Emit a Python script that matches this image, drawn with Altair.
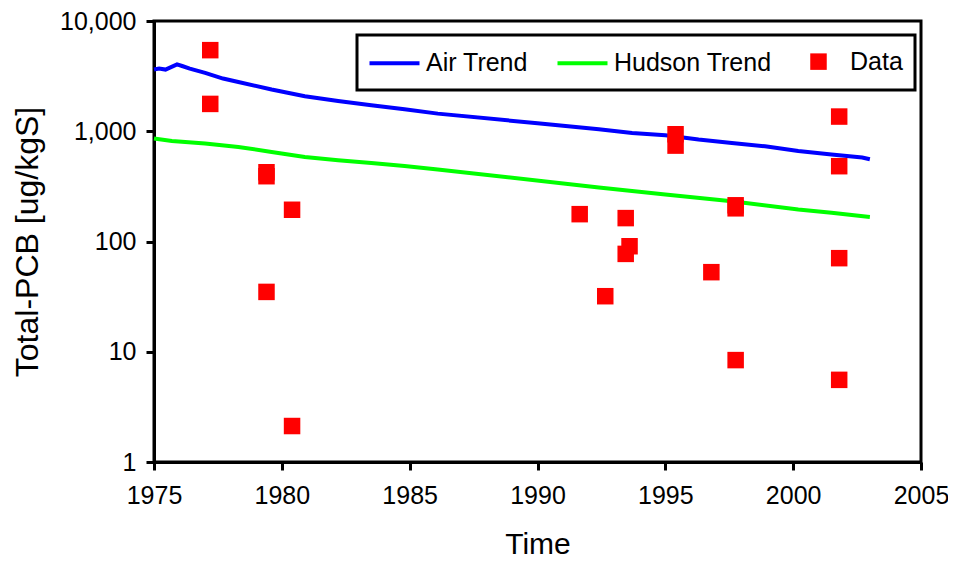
import altair as alt
import pandas as pd

# ---- data ----
series = ["Air Trend", "Hudson Trend", "Data"]

air_year = [1975.0, 1975.2, 1975.45, 1975.9, 1976.1, 1976.4, 1977.0, 1977.7, 1978.3, 1979.6,
            1980.9, 1982.2, 1983.5, 1984.8, 1986.1, 1990.0, 1992.4, 1993.7, 1995.0, 1996.3,
            1997.6, 1998.9, 2000.2, 2001.5, 2002.7, 2003.0]
air_val = [3625, 3700, 3625, 4045, 3906, 3700, 3381, 3006, 2800, 2388,
           2076, 1883, 1721, 1583, 1445, 1182, 1042, 966, 921, 841,
           784, 731, 663, 615, 578, 557]

hudson_year = [1975.0, 1975.7, 1977.0, 1978.3, 1979.6, 1980.9, 1982.2, 1983.5, 1984.8, 1986.1,
               1992.4, 1995.0, 1997.6, 2000.2, 2001.5, 2003.0]
hudson_val = [859, 817, 774, 721, 649, 585, 546, 516, 485, 450,
              309, 267, 232, 195, 182, 167]

data_year = [1977.2, 1977.2, 1979.4, 1979.4, 1979.4, 1980.4, 1980.4, 1991.65, 1992.65, 1993.45,
             1993.45, 1993.6, 1995.4, 1995.4, 1996.8, 1997.75, 1997.75, 1997.75, 2001.8, 2001.8,
             2001.8, 2001.8]
data_val = [5440, 1770, 425, 391, 34.9, 194, 2.12, 177, 31.9, 163,
            77.2, 90.6, 939, 741, 52.7, 213, 200, 8.4, 1359, 482,
            70.6, 5.56]

x_ticks = [1975, 1980, 1985, 1990, 1995, 2000, 2005]
y_ticks = [1, 10, 100, 1000, 10000]

# ---- tables ----
line_df = pd.concat([
    pd.DataFrame({"year": air_year, "value": air_val, "series": "Air Trend"}),
    pd.DataFrame({"year": hudson_year, "value": hudson_val, "series": "Hudson Trend"}),
], ignore_index=True)
pt_df = pd.DataFrame({"year": data_year, "value": data_val, "series": "Data"})

FONT = "Liberation Sans"
LINE_PATH = "M-2,0H2"
SQ_PATH = "M-0.66,-0.66H0.66V0.66H-0.66Z"

x_enc = alt.X("year:Q",
              scale=alt.Scale(domain=[1975, 2005], nice=False, zero=False),
              axis=alt.Axis(values=x_ticks, format="d", title="Time", labelFlush=False,
                            domainWidth=3, tickWidth=3, tickSize=8, labelPadding=13,
                            titleFontSize=30, titlePadding=21))
y_enc = alt.Y("value:Q",
              scale=alt.Scale(type="log", domain=[1, 10000], nice=False),
              axis=alt.Axis(values=y_ticks, format=",", title="Total-PCB [ug/kgS]",
                            labelFlush=False, domainWidth=3, tickWidth=3, tickSize=8,
                            labelPadding=10, titleFontSize=32, titlePadding=15))

lines = alt.Chart(line_df).mark_line(strokeWidth=4).encode(
    x=x_enc, y=y_enc,
    color=alt.Color("series:N",
                    scale=alt.Scale(domain=series[:2], range=["#0000FF", "#00FF00"]),
                    legend=None),
)

leg = alt.Legend(title=None, orient="none", legendX=203, legendY=14,
                 direction="horizontal", columns=3,
                 labelFont=FONT, labelFontSize=25, labelColor="black",
                 symbolSize=625, symbolStrokeWidth=4, symbolOffset=11,
                 labelOffset=17, columnPadding=21, padding=12,
                 strokeColor="black", labelLimit=400)

points = alt.Chart(pt_df).mark_point(filled=True, opacity=1, size=625).encode(
    x=x_enc, y=y_enc,
    fill=alt.Fill("series:N",
                  scale=alt.Scale(domain=series, range=["transparent", "transparent", "#FF0000"]),
                  legend=leg),
    stroke=alt.Stroke("series:N",
                      scale=alt.Scale(domain=series, range=["#0000FF", "#00FF00", "transparent"]),
                      legend=leg),
    shape=alt.Shape("series:N",
                    scale=alt.Scale(domain=series, range=[LINE_PATH, LINE_PATH, SQ_PATH]),
                    legend=leg),
)

chart = alt.layer(lines, points).properties(
    width=767, height=441,
    autosize=alt.AutoSizeParams(type="none"),
    padding={"left": 146, "top": 13, "right": 27, "bottom": 97},
).configure_view(
    stroke="black", strokeWidth=3
).configure_axis(
    grid=False, domainColor="black", domainWidth=3, tickColor="black", tickWidth=3,
    tickSize=8, labelFont=FONT, labelFontSize=25, labelColor="black",
    titleFont=FONT, titleFontWeight="normal", titleColor="black",
).configure_legend(strokeWidth=3)

chart.save("out.html", embed_options={"renderer": "svg", "actions": False})
